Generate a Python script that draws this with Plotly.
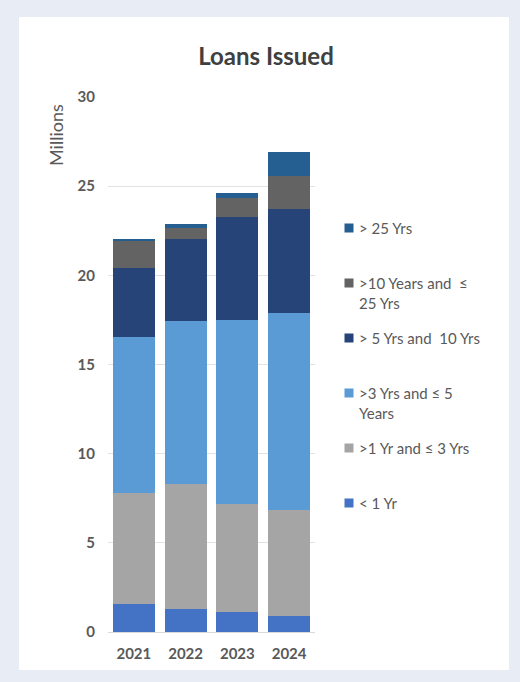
import plotly.graph_objects as go

years = ["2021", "2022", "2023", "2024"]

# stacked segments (millions), bottom to top
lt_1 = [1.57, 1.31, 1.10, 0.90]
y1_3 = [6.23, 6.99, 6.08, 5.94]
y3_5 = [8.75, 9.16, 10.32, 11.03]
y5_10 = [3.85, 4.58, 5.79, 5.83]
y10_25 = [1.50, 0.60, 1.03, 1.87]
gt_25 = [0.12, 0.24, 0.32, 1.37]

series_names = ["< 1 Yr", ">1 Yr and ≤ 3 Yrs", ">3 Yrs and ≤ 5 Years",
                "> 5 Yrs and  10 Yrs", ">10 Years and  ≤ 25 Yrs", "> 25 Yrs"]
legend_labels = ["&lt; 1 Yr", "&gt;1 Yr and ≤ 3 Yrs", "&gt;3 Yrs and ≤ 5<br>Years",
                 "&gt; 5 Yrs and  10 Yrs", "&gt;10 Years and  ≤<br>25 Yrs", "&gt; 25 Yrs"]
series_values = [lt_1, y1_3, y3_5, y5_10, y10_25, gt_25]
colors = ["#4472c4", "#a5a5a5", "#5b9bd5", "#264478", "#636363", "#255e91"]

y_ticks = [0, 5, 10, 15, 20, 25, 30]

W, H = 520, 682
ML, MR, MT, MB = 108, 205, 97, 50
PW, PH = W - ML - MR, H - MT - MB


def px_x(p):
    return (p - ML) / PW


def px_y(p):
    return (H - MB - p) / PH


FONT = "Lato"
TXT = "#595959"

fig = go.Figure()
for name, vals, col in zip(series_names, series_values, colors):
    fig.add_trace(go.Bar(x=years, y=vals, name=name, marker=dict(color=col, line=dict(width=0)),
                         showlegend=False))

annotations = [
    dict(text="Millions", textangle=-90, x=px_x(56), y=px_y(135), xref="paper", yref="paper",
         showarrow=False, font=dict(family=FONT, size=18, color=TXT), xanchor="center", yanchor="middle"),
]

# legend drawn as annotations (top entry = last series)
leg_top = 228
leg_step = 55
for i, idx in enumerate(reversed(range(len(series_names)))):
    cy = leg_top + i * leg_step
    annotations.append(dict(text="&nbsp;", x=px_x(349), y=px_y(cy), xref="paper", yref="paper",
                            showarrow=False, width=8, height=8, bgcolor=colors[idx], borderpad=0,
                            font=dict(size=1), xanchor="center", yanchor="middle"))
    annotations.append(dict(text=legend_labels[idx], x=px_x(358), y=px_y(cy - 10), xref="paper",
                            yref="paper", showarrow=False, align="left", xanchor="left", yanchor="top",
                            borderpad=0, font=dict(family=FONT, size=15, color=TXT)))

fig.update_layout(
    width=W, height=H,
    margin=dict(l=ML, r=MR, t=MT, b=MB),
    barmode="stack",
    bargap=0.19,
    paper_bgcolor="#e8ecf5",
    plot_bgcolor="white",
    title=dict(text="<b>Loans Issued</b>", x=266 / W, xref="container", xanchor="center",
               y=1 - 57 / H, yref="container", yanchor="middle",
               font=dict(family=FONT, size=24, color="#404040")),
    shapes=[dict(type="rect", xref="paper", yref="paper", x0=px_x(19), x1=px_x(509),
                 y0=px_y(670), y1=px_y(17), fillcolor="white", line=dict(width=0), layer="below")],
    annotations=annotations,
    xaxis=dict(showgrid=False, showline=True, linecolor="#d9d9d9", linewidth=1, zeroline=False,
               tickfont=dict(family=FONT, size=15, color=TXT, weight="bold"),
               ticklabelstandoff=8, automargin=False),
    yaxis=dict(range=[0, 30], tickvals=y_ticks, showgrid=True, gridcolor="#e3e3e3", gridwidth=1,
               zeroline=False, showline=False,
               tickfont=dict(family=FONT, size=15, color=TXT, weight="bold"),
               ticklabelstandoff=12, automargin=False),
)

fig.write_html("out.html")
